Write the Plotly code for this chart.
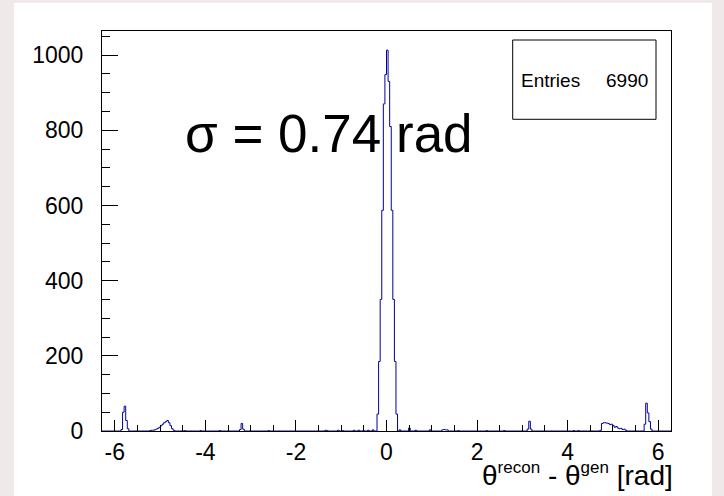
import numpy as np
import plotly.graph_objects as go

# ---- data ----
n_bins = 360
x_lo, x_hi = -2 * np.pi, 2 * np.pi

peak_x = [-0.192, -0.157, -0.122, -0.087, -0.052, -0.0175, 0.0175,
          0.052, 0.087, 0.122, 0.157, 0.192, 0.227]
peak_counts = [45, 185, 350, 587, 870, 948, 1013, 930, 810, 587, 350, 185, 45]

left_spike_x0 = -5.846
left_spike = [4, 50, 66, 28, 6]

left_bump_x0 = -5.22
left_bump = [1, 2, 2, 3, 5, 7, 10, 14, 18, 22, 25, 28, 22, 14, 6, 2]

left_pi_x0 = -3.23
left_pi = [4, 20, 5]

right_pi_x0 = 3.14
right_pi = [5, 26, 5]

right_bump_x0 = 4.74
right_bump = [2, 20, 22, 22, 21, 20, 17, 18, 15, 10, 12, 8, 6, 7, 4, 5, 2]

right_spike_x0 = 5.72
right_spike = [18, 74, 48, 25, 5]

scatter_x = [-4.45, -4.10, -3.70, -2.60, -1.35, -1.30, -1.05, -0.95, -0.72,
             -0.60, -0.50, -0.40, -0.30, 0.30, 0.49, 0.66, 0.97, 1.24, 1.28,
             1.31, 1.35, 1.60, 2.20, 2.60, 4.13, 4.25]
scatter_counts = [1, 1, 1, 1, 2, 1, 2, 1, 2, 2, 1, 2, 3, 3, 8, 2, 3, 3, 4,
                  3, 3, 1, 1, 1, 1, 1]

x_tick_vals = [-6, -4, -2, 0, 2, 4, 6]
x_tick_text = ["-6", "-4", "-2", "0", "2", "4", "6"]
y_tick_vals = [0, 200, 400, 600, 800, 1000]
y_tick_text = ["0", "200", "400", "600", "800", "1000"]

entries_text = "6990"
sigma_text = "σ = 0.74 rad"
x_title = ('θ<sup><span style="font-size:17px">recon</span></sup> - '
           'θ<sup><span style="font-size:17px">gen</span></sup> [rad]')

# ---- build histogram ----
edges = np.linspace(x_lo, x_hi, n_bins + 1)
width = edges[1] - edges[0]
counts = np.zeros(n_bins)


def bin_index(x):
    return int(np.clip(np.floor((x - x_lo) / width), 0, n_bins - 1))


for xv, c in zip(peak_x, peak_counts):
    counts[bin_index(xv)] = c
for xv, c in zip(scatter_x, scatter_counts):
    counts[bin_index(xv)] = c
for x0, vals in [(left_spike_x0, left_spike), (left_bump_x0, left_bump),
                 (left_pi_x0, left_pi), (right_pi_x0, right_pi),
                 (right_bump_x0, right_bump), (right_spike_x0, right_spike)]:
    i0 = bin_index(x0)
    for j, c in enumerate(vals):
        counts[i0 + j] = c

y_step = np.append(counts, counts[-1])

fig = go.Figure()
fig.add_trace(go.Scatter(x=edges, y=y_step, mode="lines",
                         line=dict(color="#000099", width=1, shape="hv"),
                         hoverinfo="skip"))

W, H = 724, 496
L, R, T, B = 102, 53, 31, 65
pw, ph = W - L - R, H - T - B


def px(xp):
    return (xp - L) / pw


def py(yp):
    return (H - B - yp) / ph


font_family = "Liberation Sans, Arial, Helvetica, sans-serif"

fig.update_layout(
    width=W, height=H,
    margin=dict(l=L, r=R, t=T, b=B),
    paper_bgcolor="#EFE9E9",
    plot_bgcolor="white",
    showlegend=False,
    font=dict(family=font_family, color="black"),
    shapes=[
        dict(type="rect", xref="paper", yref="paper", layer="below",
             x0=px(14), x1=px(712), y0=py(496), y1=py(3),
             fillcolor="white", line=dict(width=0)),
        dict(type="rect", xref="paper", yref="paper",
             x0=px(512.7), x1=px(656), y0=py(119.3), y1=py(40),
             fillcolor="white", line=dict(color="black", width=1)),
    ],
    annotations=[
        dict(text=sigma_text, xref="paper", yref="paper",
             x=px(183), y=py(133), xanchor="left", yanchor="middle",
             showarrow=False, font=dict(size=53, family=font_family)),
        dict(text="Entries", xref="paper", yref="paper",
             x=px(519), y=py(80.7), xanchor="left", yanchor="middle",
             showarrow=False, font=dict(size=19, family=font_family)),
        dict(text=entries_text, xref="paper", yref="paper",
             x=px(650), y=py(80.7), xanchor="right", yanchor="middle",
             showarrow=False, font=dict(size=19, family=font_family)),
        dict(text=x_title, xref="paper", yref="paper",
             x=px(675), y=py(493), xanchor="right", yanchor="bottom",
             showarrow=False, font=dict(size=28, family=font_family)),
    ],
)

fig.update_xaxes(
    range=[x_lo, x_hi], tickvals=x_tick_vals, ticktext=x_tick_text,
    ticks="inside", ticklen=11, tickwidth=1, tickcolor="black",
    showline=True, linecolor="black", linewidth=1, mirror=True,
    showgrid=False, zeroline=False,
    tickfont=dict(size=23, family=font_family),
    minor=dict(dtick=0.5, tick0=0, ticks="inside", ticklen=6,
               tickcolor="black", tickwidth=1, showgrid=False),
)
fig.update_yaxes(
    range=[0, 1064], tickvals=y_tick_vals, ticktext=y_tick_text,
    ticks="inside", ticklen=16, tickwidth=1, tickcolor="black",
    showline=True, linecolor="black", linewidth=1, mirror=True,
    showgrid=False, zeroline=False,
    tickfont=dict(size=23, family=font_family),
    ticklabelstandoff=13,
    minor=dict(dtick=50, tick0=0, ticks="inside", ticklen=8,
               tickcolor="black", tickwidth=1, showgrid=False),
)

fig.write_html("out.html")
